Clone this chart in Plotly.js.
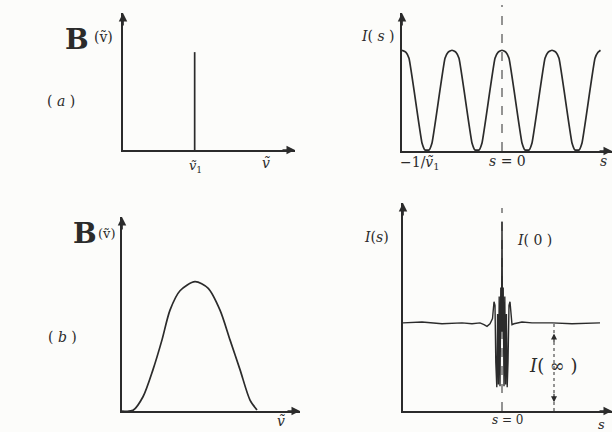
<!DOCTYPE html>
<html>
<head>
<meta charset="utf-8">
<script src="https://cdn.plot.ly/plotly-3.0.1.min.js"></script>
<style>
	html, body { margin: 0; padding: 0; background: #fcfcfa; }
	#chart { width: 612px; height: 432px; }
</style>
</head>
<body>
<div id="chart"></div>
<script>
(function () {

	'use strict';

	// (a) left: single line spectrum at nu1
	const lineNu = [1, 1];
	const lineB = [0, 1];

	// (a) right: interferogram of a single line (period 1/nu1)
	const cosS = [-2.00, -1.92, -1.86, -1.60, -1.54, -1.46, -1.40, -1.14, -1.08, -1.00,
		-0.92, -0.86, -0.60, -0.54, -0.46, -0.40, -0.14, -0.08, 0.00,
		0.08, 0.14, 0.40, 0.46, 0.54, 0.60, 0.86, 0.92, 1.00,
		1.08, 1.14, 1.40, 1.46, 1.54, 1.60, 1.86, 1.92, 1.97];
	const cosI = [1.00, 0.98, 0.92, 0.08, 0.01, 0.01, 0.08, 0.92, 0.98, 1.00,
		0.98, 0.92, 0.08, 0.01, 0.01, 0.08, 0.92, 0.98, 1.00,
		0.98, 0.92, 0.08, 0.01, 0.01, 0.08, 0.92, 0.98, 1.00,
		0.98, 0.92, 0.08, 0.01, 0.01, 0.08, 0.92, 0.98, 1.00];

	// (b) left: broad band spectrum
	const bandNu = [0, 0.22, 0.42, 0.62, 0.80, 0.96, 1.16, 1.46, 1.72, 1.96, 2.16, 2.36, 2.56, 2.70];
	const bandB = [0, 0.005, 0.11, 0.32, 0.55, 0.78, 0.93, 1.00, 0.95, 0.78, 0.55, 0.32, 0.085, 0.008];

	// (b) right: interferogram of the band, I(inf) = 1
	const burstS = [-99, -80, -60, -40, -30, -22, -18, -15, -12, -9.5, -8, -7, -6.2, -5.2, -4.4,
		-3.6, -2.8, -2.0, -1.2, -0.5, 0, 0.5, 1.2, 2.0, 2.8, 3.6, 4.4, 5.2, 6.0,
		7.0, 8.0, 9.0, 10, 12, 15, 20, 30, 50, 70, 90, 98];
	const burstI = [1.00, 1.01, 0.99, 1.00, 0.99, 1.00, 0.98, 0.96, 0.99, 1.05, 1.24, 1.20, 0.55, 0.27, 1.10,
		0.30, 1.30, 0.28, 1.40, 0.90, 2.15, 0.90, 1.40, 0.28, 1.30, 0.30, 1.10, 0.27, 0.55,
		1.20, 1.24, 1.05, 0.98, 0.99, 1.00, 1.01, 1.00, 1.00, 0.99, 1.00, 1.00];

	const ink = '#2b2b2b';
	const W = 612, H = 432;
	const px = x => x / W;
	const py = y => 1 - y / H;

	const lineStyle = { color: ink, width: 1.7 };

	const data = [
		{ x: lineNu, y: lineB, xaxis: 'x', yaxis: 'y', mode: 'lines', line: lineStyle },
		{ x: cosS, y: cosI, xaxis: 'x2', yaxis: 'y2', mode: 'lines',
			line: Object.assign({ shape: 'spline', smoothing: 0.4 }, lineStyle) },
		{ x: bandNu, y: bandB, xaxis: 'x3', yaxis: 'y3', mode: 'lines',
			line: Object.assign({ shape: 'spline', smoothing: 0.8 }, lineStyle) },
		{ x: burstS, y: burstI, xaxis: 'x4', yaxis: 'y4', mode: 'lines',
			line: { color: ink, width: 1.4 } }
	];

	const axis = (domain, range, anchor) => ({
		domain: domain, range: range, anchor: anchor,
		showline: true, linecolor: ink, linewidth: 1.7,
		showgrid: false, zeroline: false, showticklabels: false, ticks: '',
		fixedrange: true
	});

	// arrow heads on the axis ends
	const headUp = (xr, yr, x, y) => ({
		xref: xr, yref: yr, x: x, y: y, ax: 0, ay: 14, text: '',
		showarrow: true, arrowhead: 2, arrowsize: 1, arrowwidth: 1.7, arrowcolor: ink
	});
	const headRight = (xr, yr, x, y) => ({
		xref: xr, yref: yr, x: x, y: y, ax: -14, ay: 0, text: '',
		showarrow: true, arrowhead: 2, arrowsize: 1, arrowwidth: 1.7, arrowcolor: ink
	});

	const serif = 'DejaVu Serif, Liberation Serif, serif';
	const label = (x, y, text, size, extra) => Object.assign({
		xref: 'paper', yref: 'paper', x: px(x), y: py(y), text: text,
		showarrow: false, xanchor: 'center', yanchor: 'middle',
		font: { family: serif, size: size || 14, color: ink }
	}, extra || {});

	const nuT = 'ṽ';

	const layout = {
		width: W, height: H, autosize: false,
		margin: { l: 0, r: 0, t: 0, b: 0 },
		paper_bgcolor: '#fcfcfa', plot_bgcolor: 'rgba(0,0,0,0)',
		showlegend: false,
		xaxis: axis([px(123), px(295)], [0, 2.4], 'y'),
		yaxis: axis([py(150), py(13)], [0, 1.4], 'x'),
		xaxis2: axis([px(402), 1], [-2, 2.2], 'y2'),
		yaxis2: axis([py(151), py(13)], [0, 1.37], 'x2'),
		xaxis3: axis([px(122), px(300)], [0, 3.56], 'y3'),
		yaxis3: axis([py(411), py(217)], [0, 1.5], 'x3'),
		xaxis4: axis([px(403), 1], [-99, 110], 'y4'),
		yaxis4: axis([py(411), py(203)], [0, 2.36], 'x4'),
		shapes: [
			{ type: 'line', xref: 'x2', yref: 'paper', x0: 0, x1: 0, y0: py(151), y1: py(5),
				line: { color: ink, width: 1, dash: 'dash' } },
			{ type: 'line', xref: 'x4', yref: 'paper', x0: 0, x1: 0, y0: py(411), y1: py(208),
				line: { color: ink, width: 1, dash: 'dash' } },
			{ type: 'line', xref: 'x4', yref: 'y4', x0: 52, x1: 52, y0: 0, y1: 1,
				line: { color: ink, width: 1, dash: 'dot' } }
		],
		annotations: [
			headUp('x', 'y', 0, 1.4), headRight('x', 'y', 2.4, 0),
			headUp('x2', 'y2', -2, 1.37), headRight('x2', 'y2', 2.2, 0),
			headUp('x3', 'y3', 0, 1.5), headRight('x3', 'y3', 3.56, 0),
			headUp('x4', 'y4', -99, 2.36), headRight('x4', 'y4', 110, 0),
			// I(inf) double arrow
			{ xref: 'x4', yref: 'y4', x: 52, y: 0.88, ax: 0, ay: 10, text: '',
				showarrow: true, arrowhead: 2, arrowsize: 1, arrowwidth: 1.2, arrowcolor: ink },
			{ xref: 'x4', yref: 'y4', x: 52, y: 0.1, ax: 0, ay: -10, text: '',
				showarrow: true, arrowhead: 2, arrowsize: 1, arrowwidth: 1.2, arrowcolor: ink },

			label(77, 40, '<b>B</b>', 28),
			label(103, 37, '(' + nuT + ')', 14),
			label(61, 101, '( <i>a</i> )', 14),
			label(196, 166, '<i>' + nuT + '</i><sub>1</sub>', 13),
			label(266, 163, '<i>' + nuT + '</i>', 14),

			label(378, 36, '<i>I</i>( <i>s</i> )', 14),
			label(420, 163, '−1/<i>' + nuT + '</i><sub>1</sub>', 14),
			label(507, 161, '<i>s</i> = 0', 14),
			label(603, 161, '<i>s</i>', 14),

			label(85, 234, '<b>B</b>', 28),
			label(107, 233, '(' + nuT + ')', 13),
			label(62, 337, '( <i>b</i> )', 14),
			label(281, 421, '<i>' + nuT + '</i>', 14),

			label(376, 237, '<i>I</i>(<i>s</i>)', 14),
			label(534, 240, '<i>I</i>( 0 )', 14),
			label(553, 365, '<i>I</i>( ∞ )', 18),
			label(508, 420, '<i>s</i> = 0', 12),
			label(601, 424, '<i>s</i>', 13)
		]
	};

	const init = () => {
		Plotly.newPlot('chart', data, layout, { displayModeBar: false, staticPlot: true });
	};

	document.addEventListener('DOMContentLoaded', init, { once: true });

})();
</script>
</body>
</html>
